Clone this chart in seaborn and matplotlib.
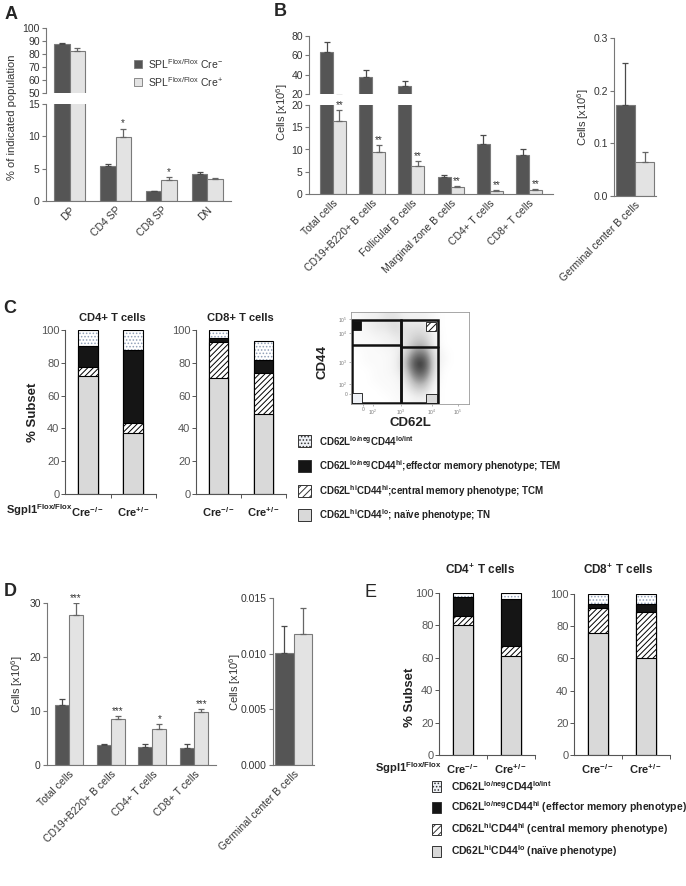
import numpy as np
import pandas as pd
import seaborn as sns
import matplotlib.pyplot as plt
from matplotlib.patches import Rectangle
from matplotlib.colors import PowerNorm

sns.set_style('ticks')
plt.rcParams['font.family'] = ['Liberation Sans', 'DejaVu Sans']
plt.rcParams['mathtext.default'] = 'regular'
plt.rcParams['hatch.linewidth'] = 0.7

W, H = 686, 886
DARK = '#555555'
LIGHT = '#e3e3e3'
GPEDGE = '#7a7a7a'
AXC = '#777777'
TXT = '#333333'

# ---------- A : thymus
cats_a = ['DP', 'CD4 SP', 'CD8 SP', 'DN']
a_neg = [88.0, 5.4, 1.5, 4.2]
a_neg_err = [0.5, 0.25, 0.1, 0.35]
a_pos = [82.5, 9.9, 3.3, 3.4]
a_pos_err = [1.8, 1.3, 0.45, 0.2]
a_stars = ['', '*', '*', '']

# ---------- B : spleen cell numbers
cats_b = ['Total cells', 'CD19+B220+ B cells', 'Follicular B cells',
          'Marginal zone B cells', 'CD4+ T cells', 'CD8+ T cells']
b_neg = [63.0, 38.0, 28.5, 3.9, 11.2, 8.7]
b_neg_err = [11.0, 6.5, 5.0, 0.45, 2.0, 1.3]
b_pos = [16.5, 9.4, 6.3, 1.5, 0.7, 0.9]
b_pos_err = [2.4, 1.7, 1.1, 0.2, 0.2, 0.25]
b_stars = ['**', '**', '**', '**', '**', '**']

cats_gc = ['Germinal center B cells']
bgc_neg = [0.173]
bgc_neg_err = [0.079]
bgc_pos = [0.065]
bgc_pos_err = [0.018]

# ---------- C : subsets (naive, central mem, effector mem, lo/lo)
genotypes = ['Cre$^{-/-}$', 'Cre$^{+/-}$']
c_cd4_tn = [72, 37]
c_cd4_tcm = [5.5, 6.5]
c_cd4_tem = [13, 44.5]
c_cd4_lo = [9.5, 12]
c_cd8_tn = [70.5, 49]
c_cd8_tcm = [22, 25]
c_cd8_tem = [2.5, 8]
c_cd8_lo = [5, 11]

# ---------- flow plot density (rows top -> bottom), read by eye
flow_density = np.array([
    [1, 2, 2, 3, 3, 2, 2, 2, 1, 0, 0, 0],
    [1, 2, 3, 3, 4, 3, 3, 3, 1, 0, 0, 0],
    [1, 1, 2, 2, 3, 3, 4, 4, 2, 0, 0, 0],
    [1, 1, 1, 2, 2, 3, 5, 5, 2, 0, 0, 0],
    [0, 1, 1, 1, 2, 4, 7, 7, 3, 1, 0, 0],
    [0, 1, 1, 1, 2, 5, 9, 9, 3, 1, 0, 0],
    [0, 0, 1, 1, 2, 4, 8, 8, 3, 0, 0, 0],
    [0, 0, 1, 1, 1, 3, 6, 6, 2, 0, 0, 0],
    [0, 0, 0, 1, 1, 2, 4, 4, 1, 0, 0, 0],
    [0, 0, 0, 0, 1, 1, 2, 2, 1, 0, 0, 0],
])
flow_ticks = ['0', '10$^2$', '10$^3$', '10$^4$', '10$^5$']

# ---------- D : lymph node
cats_d = ['Total cells', 'CD19+B220+ B cells', 'CD4+ T cells', 'CD8+ T cells']
d_neg = [11.2, 3.7, 3.4, 3.1]
d_neg_err = [1.1, 0.1, 0.5, 0.7]
d_pos = [27.8, 8.5, 6.7, 9.8]
d_pos_err = [2.2, 0.6, 0.9, 0.6]
d_stars = ['***', '***', '*', '***']
dgc_neg = [0.0101]
dgc_neg_err = [0.0024]
dgc_pos = [0.0118]
dgc_pos_err = [0.0023]

# ---------- E : subsets
e_cd4_tn = [80.5, 61]
e_cd4_tcm = [5, 6.5]
e_cd4_tem = [12, 28.5]
e_cd4_lo = [2.5, 4]
e_cd8_tn = [76, 60]
e_cd8_tcm = [15, 29]
e_cd8_tem = [3, 5]
e_cd8_lo = [6, 6]

fig = plt.figure(figsize=(W / 100, H / 100), dpi=100)


def add_ax(l, t, r, b):
    return fig.add_axes([l / W, 1 - b / H, (r - l) / W, (b - t) / H])


def ftext(x, y, s, **kw):
    fig.text(x / W, 1 - y / H, s, **kw)


def fbox(x, y, w, h, **kw):
    fig.add_artist(Rectangle((x / W, 1 - (y + h) / H), w / W, h / H,
                             transform=fig.transFigure, **kw))


def gp_style(ax, yticks, xlabels=None, fmt=None):
    sns.despine(ax=ax)
    ax.spines['left'].set_color(AXC)
    ax.spines['left'].set_linewidth(0.8)
    ax.set_yticks(yticks)
    if fmt:
        ax.set_yticklabels([fmt.format(v) for v in yticks])
    ax.tick_params(axis='y', colors=AXC, labelcolor=TXT, labelsize=7.5, length=3, width=0.8, pad=1.5)
    ax.set_xlabel('')
    ax.set_ylabel('')
    if xlabels is None:
        ax.spines['bottom'].set_visible(False)
        ax.tick_params(axis='x', bottom=False, labelbottom=False)
    else:
        ax.spines['bottom'].set_color(AXC)
        ax.spines['bottom'].set_linewidth(0.8)
        ax.set_xticks(range(len(xlabels)))
        ax.set_xticklabels(xlabels, rotation=45, ha='right', rotation_mode='anchor',
                           fontsize=7.5, color=TXT)
        ax.tick_params(axis='x', length=0, pad=3)


def grouped(ax, cats, neg, neg_err, pos, pos_err, width, stars=None):
    df = pd.DataFrame({'cat': cats + cats,
                       'grp': ['neg'] * len(cats) + ['pos'] * len(cats),
                       'val': neg + pos})
    sns.barplot(data=df, x='cat', y='val', hue='grp', hue_order=['neg', 'pos'],
                palette={'neg': DARK, 'pos': LIGHT}, saturation=1, width=width,
                edgecolor=GPEDGE, linewidth=0.8, errorbar=None, legend=False, ax=ax)
    xs = np.arange(len(cats))
    off = width / 4
    zeros = np.zeros(len(cats))
    ax.errorbar(xs - off, neg, yerr=[zeros, neg_err], fmt='none', ecolor='#4a4a4a',
                elinewidth=0.9, capsize=2.5, capthick=0.9)
    ax.errorbar(xs + off, pos, yerr=[zeros, pos_err], fmt='none', ecolor='#666666',
                elinewidth=0.9, capsize=2.5, capthick=0.9)
    if stars:
        for x, v, e, s in zip(xs + off, pos, pos_err, stars):
            if s:
                ax.text(x, v + e, s, ha='center', va='bottom', fontsize=7, color=TXT)


def stacked(ax, tn, tcm, tem, lo, width, pad):
    tn = np.array(tn, float)
    c1 = tn + np.array(tcm)
    c2 = c1 + np.array(tem)
    c3 = c2 + np.array(lo)
    layers = [(c3, 'white', '.....'), (c2, '#151515', None),
              (c1, 'white', '//////'), (tn, '#d9d9d9', None)]
    for vals, fc, hatch in layers:
        n0 = len(ax.patches)
        sns.barplot(x=genotypes, y=vals, color=fc, saturation=1, width=width,
                    edgecolor='black', linewidth=0.8, errorbar=None, ax=ax)
        for p in ax.patches[n0:]:
            if hatch == '.....':
                p.set_hatch(hatch)
                p.set_edgecolor('#90a0b8')
                p.set_linewidth(0)
                ax.add_patch(Rectangle(p.get_xy(), p.get_width(), p.get_height(),
                                       fill=False, edgecolor='black', linewidth=0.8))
            elif hatch:
                p.set_hatch(hatch)
    sns.despine(ax=ax)
    ax.set_ylim(0, 100)
    ax.set_xlim(-0.5, 1.5)
    ax.set_yticks(range(0, 101, 20))
    for s in ['left', 'bottom']:
        ax.spines[s].set_color('#555555')
        ax.spines[s].set_linewidth(0.8)
    ax.tick_params(axis='y', colors='#555555', labelcolor='#555555', labelsize=8,
                   length=3, width=0.7, pad=1)
    ax.set_xticks([0, 1])
    ax.set_xticklabels(genotypes, fontsize=8, fontweight='bold', color='#222222')
    ax.tick_params(axis='x', which='major', length=0, pad=pad)
    ax.set_xticks([0.5, 1.5], minor=True)
    ax.tick_params(axis='x', which='minor', length=3, width=0.7, colors='#555555')
    ax.set_xlabel('')
    ax.set_ylabel('')


# ================= A
ax_up = add_ax(46, 28, 231, 93)
grouped(ax_up, cats_a, a_neg, a_neg_err, a_pos, a_pos_err, 0.67)
ax_up.set_ylim(50, 100)
gp_style(ax_up, [50, 60, 70, 80, 90, 100])
ax_lo = add_ax(46, 104, 231, 201)
grouped(ax_lo, cats_a, a_neg, a_neg_err, a_pos, a_pos_err, 0.67, a_stars)
ax_lo.set_ylim(0, 15)
gp_style(ax_lo, [0, 5, 10, 15], cats_a)
ftext(12, 117, '% of indicated population', rotation=90, ha='center', va='center',
      fontsize=8, color=TXT)
ftext(5, 6, 'A', fontsize=13, fontweight='bold', va='top')
fbox(134, 60, 8, 8, facecolor=DARK, edgecolor=GPEDGE, linewidth=0.6)
fbox(134, 78, 8, 8, facecolor=LIGHT, edgecolor=GPEDGE, linewidth=0.6)
ftext(148, 64, 'SPL$^{Flox/Flox}$ Cre$^{-}$', fontsize=7.5, va='center', color=TXT)
ftext(148, 82, 'SPL$^{Flox/Flox}$ Cre$^{+}$', fontsize=7.5, va='center', color=TXT)

# ================= B
ax_up = add_ax(309, 36, 553, 94)
grouped(ax_up, cats_b, b_neg, b_neg_err, b_pos, b_pos_err, 0.66)
ax_up.set_ylim(20, 80)
gp_style(ax_up, [20, 40, 60, 80])
ax_lo = add_ax(309, 105, 553, 194)
grouped(ax_lo, cats_b, b_neg, b_neg_err, b_pos, b_pos_err, 0.66, b_stars)
ax_lo.set_ylim(0, 20)
gp_style(ax_lo, [0, 5, 10, 15, 20], cats_b)
ftext(282, 112, 'Cells [x10$^6$]', rotation=90, ha='center', va='center', fontsize=8, color=TXT)
ftext(274, 3, 'B', fontsize=13, fontweight='bold', va='top')

ax_gc = add_ax(614, 38, 656, 196)
grouped(ax_gc, cats_gc, bgc_neg, bgc_neg_err, bgc_pos, bgc_pos_err, 0.86)
ax_gc.set_ylim(0, 0.3)
gp_style(ax_gc, [0, 0.1, 0.2, 0.3], cats_gc, fmt='{:.1f}')
ftext(583, 117, 'Cells [x10$^6$]', rotation=90, ha='center', va='center', fontsize=8, color=TXT)

# ================= C
ax4 = add_ax(65, 330, 156, 494)
stacked(ax4, c_cd4_tn, c_cd4_tcm, c_cd4_tem, c_cd4_lo, 0.44, 8)
ax8 = add_ax(196, 330, 286, 494)
stacked(ax8, c_cd8_tn, c_cd8_tcm, c_cd8_tem, c_cd8_lo, 0.44, 8)
ftext(112, 318, 'CD4+ T cells', ha='center', va='center', fontsize=8, fontweight='bold', color='#222222')
ftext(240, 318, 'CD8+ T cells', ha='center', va='center', fontsize=8, fontweight='bold', color='#222222')
ftext(33, 412, '% Subset', rotation=90, ha='center', va='center', fontsize=9.5,
      fontweight='bold', color='#222222')
ftext(6, 510, 'Sgpl1$^{Flox/Flox}$', ha='left', va='center', fontsize=8, fontweight='bold', color='#222222')
ftext(3, 300, 'C', fontsize=13, fontweight='bold', va='top')

# flow plot
axf = add_ax(351, 312, 469, 404)
axf.imshow(flow_density, extent=(0, 118, 0, 92), cmap='Greys',
           norm=PowerNorm(gamma=1.4, vmin=0, vmax=10),
           interpolation='bicubic', aspect='auto')
axf.set_xlim(0, 118)
axf.set_ylim(0, 92)
for s in axf.spines.values():
    s.set_color('#999999')
    s.set_linewidth(0.6)
axf.set_xticks([12, 22, 50, 81, 107])
axf.set_xticklabels(flow_ticks)
axf.set_yticks([10, 20, 42, 71, 85])
axf.set_yticklabels(flow_ticks)
axf.tick_params(labelsize=3.5, length=1.5, width=0.4, pad=1, colors='#777777')
for xy, w, h in [((0.6, 0.6), 49.4, 83.4), ((50, 0.6), 37, 83.4)]:
    axf.add_patch(Rectangle(xy, w, h, fill=False, edgecolor='#111111', linewidth=1.8))
axf.plot([0.6, 50], [59, 59], color='#111111', lw=1.8)
axf.plot([50, 87], [57, 57], color='#111111', lw=1.8)
axf.add_patch(Rectangle((1.5, 74), 9, 9, facecolor='#111111', edgecolor='#111111', lw=0.6))
axf.add_patch(Rectangle((75, 73), 10, 9, facecolor='white', edgecolor='#111111', hatch='/////', lw=0.6))
axf.add_patch(Rectangle((1.5, 1.5), 10, 10, facecolor='#eef1f6', edgecolor='#111111', lw=0.6))
axf.add_patch(Rectangle((75, 1.5), 11, 9, facecolor='#d9d9d9', edgecolor='#111111', lw=0.6))
ftext(410, 423, 'CD62L', ha='center', va='center', fontsize=9.5, fontweight='bold', color='#222222')
ftext(323, 362, 'CD44', rotation=90, ha='center', va='center', fontsize=9.5, fontweight='bold', color='#222222')

c_leg = ['CD62L$^{lo/neg}$CD44$^{lo/int}$',
         'CD62L$^{lo/neg}$CD44$^{hi}$;effector memory phenotype; TEM',
         'CD62L$^{hi}$CD44$^{hi}$;central memory phenotype; TCM',
         'CD62L$^{hi}$CD44$^{lo}$; naïve phenotype; TN']
leg_style = [dict(facecolor='#eef1f6', hatch='.....'), dict(facecolor='#151515'),
             dict(facecolor='white', hatch='/////'), dict(facecolor='#d9d9d9')]
for y, s, st in zip([441, 466, 491, 515], c_leg, leg_style):
    fbox(298, y - 6, 13, 12, edgecolor='#333333', linewidth=0.7, **st)
    ftext(319, y, s, va='center', fontsize=7, fontweight='bold', color='#222222')

# ================= D
ax_d = add_ax(47, 603, 216, 765)
grouped(ax_d, cats_d, d_neg, d_neg_err, d_pos, d_pos_err, 0.67, d_stars)
ax_d.set_ylim(0, 30)
gp_style(ax_d, [0, 10, 20, 30], cats_d)
ftext(17, 684, 'Cells [x10$^6$]', rotation=90, ha='center', va='center', fontsize=8, color=TXT)
ftext(4, 583, 'D', fontsize=13, fontweight='bold', va='top')

ax_dgc = add_ax(273, 598, 314, 765)
grouped(ax_dgc, cats_gc, dgc_neg, dgc_neg_err, dgc_pos, dgc_pos_err, 0.86)
ax_dgc.set_ylim(0, 0.015)
gp_style(ax_dgc, [0, 0.005, 0.010, 0.015], cats_gc, fmt='{:.3f}')
ftext(235, 682, 'Cells [x10$^6$]', rotation=90, ha='center', va='center', fontsize=8, color=TXT)

# ================= E
ax4 = add_ax(439, 593, 535, 755)
stacked(ax4, e_cd4_tn, e_cd4_tcm, e_cd4_tem, e_cd4_lo, 0.42, 5)
ax8 = add_ax(574, 594, 670, 755)
stacked(ax8, e_cd8_tn, e_cd8_tcm, e_cd8_tem, e_cd8_lo, 0.42, 5)
ftext(480, 570, 'CD4$^{+}$ T cells', ha='center', va='center', fontsize=8.5, fontweight='bold', color='#222222')
ftext(618, 570, 'CD8$^{+}$ T cells', ha='center', va='center', fontsize=8.5, fontweight='bold', color='#222222')
ftext(410, 697, '% Subset', rotation=90, ha='center', va='center', fontsize=9.5,
      fontweight='bold', color='#222222')
ftext(375, 768, 'Sgpl1$^{Flox/Flox}$', ha='left', va='center', fontsize=8, fontweight='bold', color='#222222')
ftext(364, 584, 'E', fontsize=13, va='top')

e_leg = ['CD62L$^{lo/neg}$CD44$^{lo/int}$',
         'CD62L$^{lo/neg}$CD44$^{hi}$ (effector memory phenotype)',
         'CD62L$^{hi}$CD44$^{hi}$ (central memory phenotype)',
         'CD62L$^{hi}$CD44$^{lo}$ (naïve phenotype)']
for y, s, st in zip([786, 807, 829, 851], e_leg, leg_style):
    fbox(432, y - 5, 9, 11, edgecolor='#333333', linewidth=0.7, **st)
    ftext(451, y, s, va='center', fontsize=7.5, fontweight='bold', color='#222222')

fig.savefig('out.png', dpi=100)
